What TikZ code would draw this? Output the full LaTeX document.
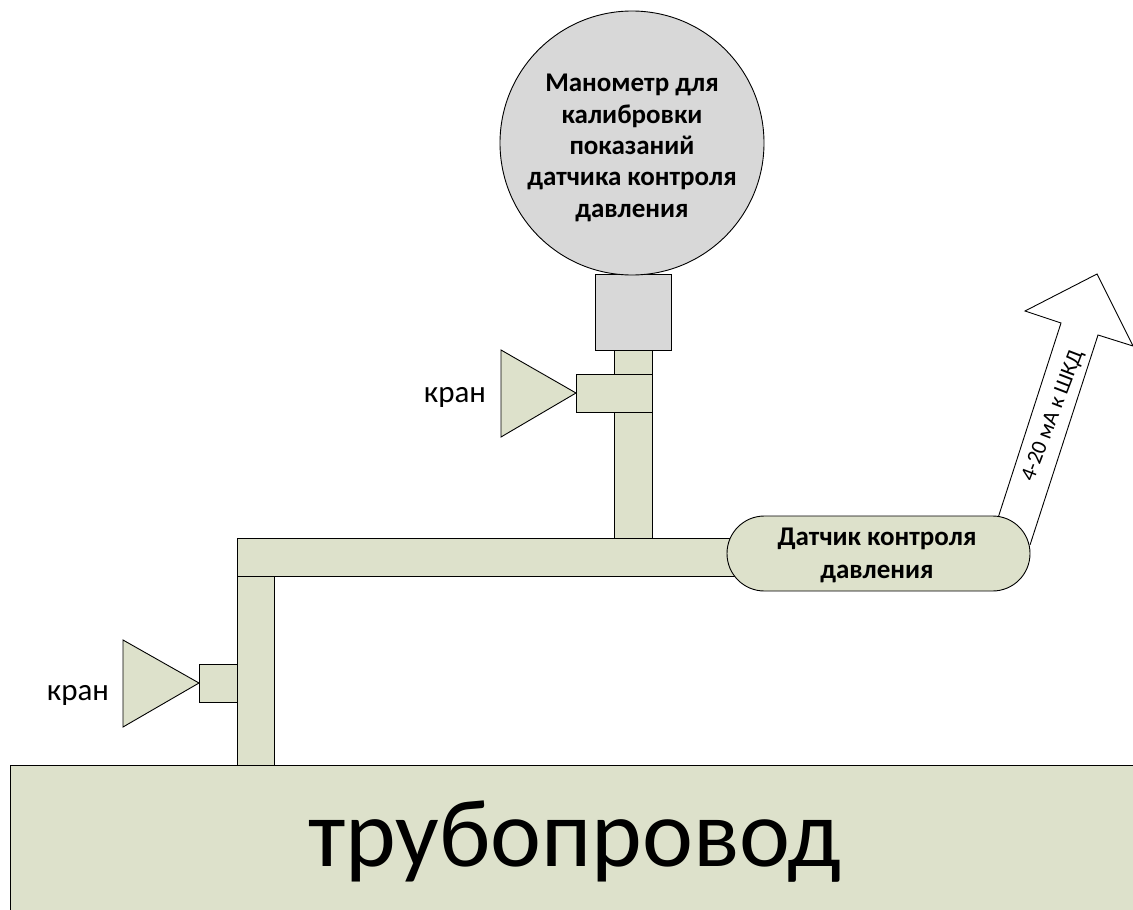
\documentclass[tikz,border=0pt]{standalone}
\usepackage{fontspec}
\setmainfont{Carlito}
\definecolor{pipegreen}{HTML}{DDE1CB}
\definecolor{gaugegray}{HTML}{D8D8D8}
\tikzset{
  pipepart/.style={draw=black,fill=pipegreen,line width=0.9pt,line join=miter},
  gaugepart/.style={draw=black,fill=gaugegray,line width=0.9pt},
  arrowpart/.style={draw=black,fill=white,line width=0.9pt,line join=miter}
}
\begin{document}
\begin{tikzpicture}[x=1pt,y=-1pt]
  \useasboundingbox (0,0) rectangle (1133,910);
  \fill[pipegreen] (10,765) rectangle (1133,910);
  \draw[line width=0.9pt] (10,910) -- (10,765) -- (1133,765);
  \draw[arrowpart] (998,518) -- (1061,323) -- (1025,311) -- (1097,274) -- (1133,346) -- (1098,335) -- (1030,545);
  \draw[pipepart] (614,350) rectangle (652,538);
  \draw[pipepart] (237,576) rectangle (274,765);
  \draw[pipepart] (237,538) rectangle (745,576);
  \draw[gaugepart] (595,274) rectangle (671,350);
  \draw[gaugepart] (632,143) circle[radius=132];
  \draw[pipepart] (576,374) rectangle (652,412);
  \draw[pipepart] (501,350) -- (576,393) -- (501,437) -- cycle;
  \draw[pipepart] (199,664.5) rectangle (237,702);
  \draw[pipepart] (123,640) -- (199,683) -- (123,727) -- cycle;
  \draw[pipepart,rounded corners=37.4pt] (727,516) rectangle (1030,591);
  \node[align=center,font=\fontsize{27}{31.3}\selectfont\bfseries] (gaugetext) at (632,148) {Манометр для\\калибровки\\показаний\\датчика контроля\\давления};
  \node[align=center,font=\fontsize{27}{33}\selectfont\bfseries] (sensortext) at (877,555) {Датчик контроля\\давления};
  \node[font=\fontsize{31}{33}\selectfont] (valvetop) at (455,397) {кран};
  \node[font=\fontsize{31}{33}\selectfont] (valvebottom) at (78,695) {кран};
  \node[rotate=69,font=\fontsize{22}{24}\selectfont] (signaltext) at (1053,416) {4-20 мА к ШКД};
  \node[font=\fontsize{96.5}{98}\selectfont] (pipetext) at (575,842) {трубопровод};
\end{tikzpicture}
\end{document}
